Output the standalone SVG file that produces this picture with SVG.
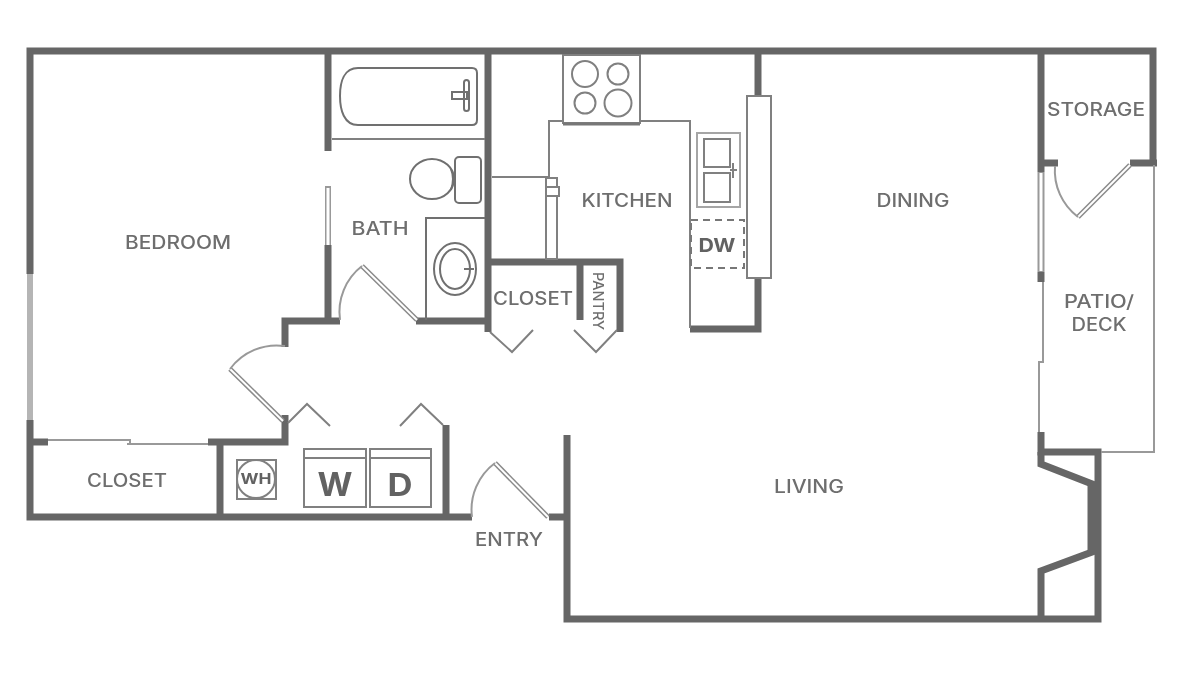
<svg xmlns="http://www.w3.org/2000/svg" width="1200" height="675" viewBox="0 0 1200 675">
<defs><filter id="soft" filterUnits="userSpaceOnUse" x="0" y="0" width="1200" height="675"><feGaussianBlur stdDeviation="0.5"/></filter></defs>
<style>
.w{fill:none;stroke:#666;stroke-width:7;stroke-linecap:butt;stroke-linejoin:miter}
.t{fill:none;stroke:#808080;stroke-width:2}
.f{fill:none;stroke:#707070;stroke-width:2}
.a{fill:none;stroke:#999;stroke-width:2}
.lw{fill:none;stroke:#aaa;stroke-width:5}
.dd{fill:none;stroke:#8a8a8a;stroke-width:5}
.di{fill:none;stroke:#fff;stroke-width:2}
.d{fill:none;stroke:#777;stroke-width:2;stroke-dasharray:7 5}
text{font-family:Inter,"Liberation Sans",sans-serif;fill:#6e6e6e;font-size:18px;font-weight:500;text-anchor:middle}
.b{font-weight:700;fill:#626262}
</style>
<rect width="1200" height="675" fill="#fff"/>
<g filter="url(#soft)">
<g id="walls" class="w">
<path d="M30 274V51H1153V165"/>
<path d="M30 420V517H472"/>
<path d="M30 442H48"/>
<path d="M208 442H285V415"/>
<path d="M220 442V517"/>
<path d="M328 51V151"/>
<path d="M328 245V321"/>
<path d="M340 321H285V347"/>
<path d="M416 321H488"/>
<path d="M488 51V332"/>
<path d="M488 262H620V332"/>
<path d="M580 262V320"/>
<path d="M446 425V517"/>
<path d="M549 517H567"/>
<path d="M567 435V619H1098V452H1041V432"/>
<path d="M1041 51V172"/>
<path d="M1041 163H1058"/>
<path d="M1130 163H1157"/>
<path d="M1041 272V282"/>
<path d="M1041 452V464L1092 484V552L1041 571V619"/>
<path d="M1093 484V552" style="stroke-width:11"/>
<path d="M758 51V96"/>
<path d="M758 278V329H690"/>
</g>
<g id="windows">
<path class="lw" d="M30 274V420" style="stroke:#b5b5b5;stroke-width:6"/>
<path class="dd" d="M328 186V245" style="stroke-width:6;stroke:#999"/><path class="di" d="M328 188V245" style="stroke-width:3"/>
<path d="M1041 172V272" style="fill:none;stroke:#999;stroke-width:7"/><path d="M1041 173V271" style="fill:none;stroke:#fff;stroke-width:3"/>
<path class="a" d="M48 440H130V444M127 444H208"/>
</g>
<g id="patio"><path class="a" d="M1154 165V452H1101M1043 282V362H1039V432"/></g>
<g id="doors">
<path class="dd" d="M417 320L362 266"/><path class="di" d="M417 320L362 266"/><path class="a" d="M362 266A58 58 0 0 0 340 320"/>
<path class="dd" d="M283 421L230 369"/><path class="di" d="M283 421L230 369"/><path class="a" d="M230 369A58 58 0 0 1 285 346"/>
<path class="dd" d="M548 517L495 463"/><path class="di" d="M548 517L495 463"/><path class="a" d="M495 463A58 58 0 0 0 472 517"/>
<path class="dd" d="M1130 165L1078 217"/><path class="di" d="M1130 165L1078 217"/><path class="a" d="M1078 217A58 58 0 0 1 1055 166"/>
<path class="t" d="M490 332L512 352L533 330"/>
<path class="t" d="M574 330L596 352L617 330"/>
<path class="t" d="M288 423L307 404L330 426"/>
<path class="t" d="M400 426L421 404L443 425"/>
</g>
<g id="bath-fixtures" class="f">
<path d="M358 68H472Q477 68 477 73V120Q477 125 472 125H358C344 125 340 110 340 96S344 68 358 68Z"/>
<path d="M452 92H467V99H452Z"/><rect x="464" y="80" width="5" height="31" rx="2.500"/>
<path d="M332 139H485" class="t"/>
<ellipse cx="432" cy="179" rx="22" ry="20"/>
<path d="M451 169Q455 179 451 190"/>
<rect x="455" y="157" width="26" height="46" rx="4"/>
<path d="M426 320V218H485"/>
<ellipse cx="455" cy="269" rx="21" ry="26"/><ellipse cx="455" cy="269" rx="15" ry="20"/>
<path d="M464 269H474"/>
</g>
<g id="kitchen-fixtures" class="t">
<path d="M492 177H549V121H563M640 121H690V328"/>
<rect x="563" y="55" width="77" height="68"/>
<path d="M563 124H640" style="stroke:#777;stroke-width:3"/>
<circle cx="585" cy="74" r="13"/><circle cx="618" cy="74" r="10.500"/><circle cx="585" cy="103" r="10.500"/><circle cx="618" cy="103" r="13.500"/>
<rect x="546" y="178" width="11" height="81" fill="#fff"/>
<rect x="546" y="187" width="13" height="9" fill="#fff"/>
<rect x="697" y="133" width="43" height="74" style="stroke:#a5a5a5"/>
<rect x="704" y="139" width="26" height="28"/><rect x="704" y="173" width="26" height="29"/>
<path d="M730 170H737M733 163V178"/>
<rect class="d" x="691" y="220" width="53" height="48"/>
<rect x="747" y="96" width="24" height="182" fill="#fff"/>
</g>
<g id="laundry" class="t">
<rect x="237" y="460" width="39" height="39"/><circle cx="256" cy="479" r="19"/>
<rect x="304" y="449" width="62" height="58"/><path d="M304 458H366"/>
<rect x="370" y="449" width="61" height="58"/><path d="M370 458H431"/>
</g>
<g id="labels">
<text x="178" y="249" textLength="106" lengthAdjust="spacingAndGlyphs">BEDROOM</text>
<text x="380" y="235" textLength="57" lengthAdjust="spacingAndGlyphs">BATH</text>
<text x="627" y="207" textLength="91" lengthAdjust="spacingAndGlyphs">KITCHEN</text>
<text x="913" y="207" textLength="73" lengthAdjust="spacingAndGlyphs">DINING</text>
<text x="533" y="305" textLength="80" lengthAdjust="spacingAndGlyphs">CLOSET</text>
<text transform="translate(593 301) rotate(90)" style="font-size:14px" textLength="58" lengthAdjust="spacingAndGlyphs">PANTRY</text>
<text x="1096" y="116" textLength="98" lengthAdjust="spacingAndGlyphs">STORAGE</text>
<text x="1099" y="308" textLength="70" lengthAdjust="spacingAndGlyphs">PATIO/</text>
<text x="1099" y="331" textLength="55" lengthAdjust="spacingAndGlyphs">DECK</text>
<text x="809" y="493" textLength="70" lengthAdjust="spacingAndGlyphs">LIVING</text>
<text x="127" y="487" textLength="80" lengthAdjust="spacingAndGlyphs">CLOSET</text>
<text x="509" y="546" textLength="68" lengthAdjust="spacingAndGlyphs">ENTRY</text>
<text class="b" x="717" y="252" style="font-size:19px" textLength="37" lengthAdjust="spacingAndGlyphs">DW</text>
<text class="b" x="256" y="484" style="font-size:14px" textLength="31" lengthAdjust="spacingAndGlyphs">WH</text>
<text class="b" x="335" y="496" style="font-size:33px" textLength="35" lengthAdjust="spacingAndGlyphs">W</text>
<text class="b" x="400" y="496" style="font-size:31px" textLength="25" lengthAdjust="spacingAndGlyphs">D</text>
</g>
</g>
</svg>
